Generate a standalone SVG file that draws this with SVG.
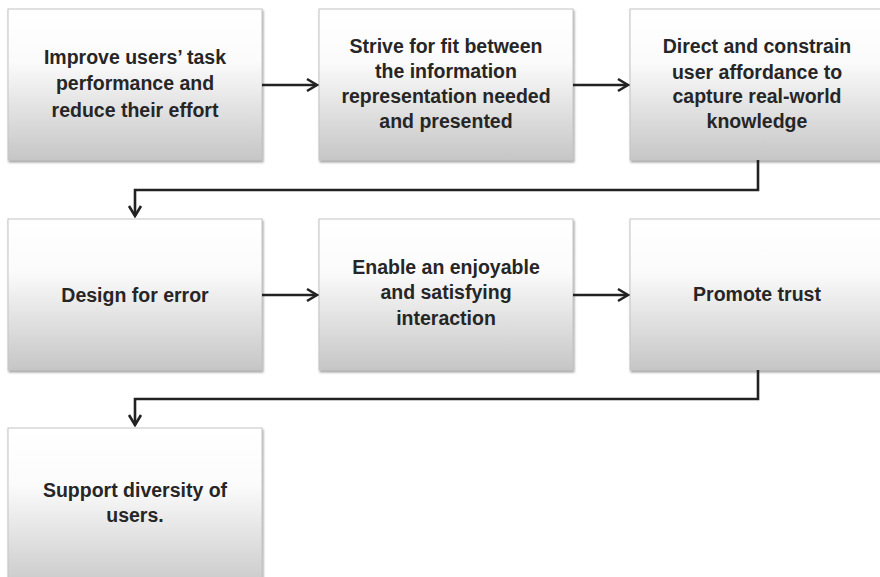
<svg xmlns="http://www.w3.org/2000/svg" width="880" height="577" viewBox="0 0 880 577">
  <defs>
    <linearGradient id="boxFill" x1="0" y1="0" x2="0" y2="1">
      <stop offset="0" stop-color="#ffffff"/>
      <stop offset="0.35" stop-color="#fbfbfb"/>
      <stop offset="1" stop-color="#c6c6c6"/>
    </linearGradient>
    <filter id="shadow" x="-5%" y="-5%" width="112%" height="115%">
      <feDropShadow dx="1" dy="2" stdDeviation="1.3" flood-color="#555" flood-opacity="0.55"/>
    </filter>
    <marker id="arrow" markerUnits="userSpaceOnUse" markerWidth="14" markerHeight="16" viewBox="0 0 14 16" refX="12" refY="8" orient="auto">
      <path d="M2,2 L12,8 L2,14" fill="none" stroke="#222" stroke-width="2.6" stroke-linejoin="miter"/>
    </marker>
  </defs>
  <style>
    .box { fill: url(#boxFill); stroke: #c4c4c4; stroke-width: 1; filter: url(#shadow); }
    .label { font-family: "Liberation Sans", Arial, sans-serif; font-weight: bold; font-size: 19.5px; fill: #262626; text-anchor: middle; }
    .conn { fill: none; stroke: #222; stroke-width: 2.6; marker-end: url(#arrow); }
  </style>

  <rect width="880" height="577" fill="#ffffff"/>

  <g id="node-task-performance">
    <rect class="box" x="8" y="9" width="254" height="151"/>
    <text class="label" x="135" y="64">Improve users’ task</text>
    <text class="label" x="135" y="90">performance and</text>
    <text class="label" x="135" y="117">reduce their effort</text>
  </g>

  <g id="node-information-fit">
    <rect class="box" x="319" y="9" width="254" height="151"/>
    <text class="label" x="446" y="53">Strive for fit between</text>
    <text class="label" x="446" y="78">the information</text>
    <text class="label" x="446" y="103">representation needed</text>
    <text class="label" x="446" y="128">and presented</text>
  </g>

  <g id="node-affordance">
    <rect class="box" x="630" y="9" width="256" height="151"/>
    <text class="label" x="757" y="53">Direct and constrain</text>
    <text class="label" x="757" y="79">user affordance to</text>
    <text class="label" x="757" y="103">capture real-world</text>
    <text class="label" x="757" y="128">knowledge</text>
  </g>

  <g id="node-design-error">
    <rect class="box" x="8" y="219" width="254" height="151"/>
    <text class="label" x="135" y="302">Design for error</text>
  </g>

  <g id="node-enjoyable">
    <rect class="box" x="319" y="219" width="254" height="151"/>
    <text class="label" x="446" y="274">Enable an enjoyable</text>
    <text class="label" x="446" y="299">and satisfying</text>
    <text class="label" x="446" y="325">interaction</text>
  </g>

  <g id="node-trust">
    <rect class="box" x="630" y="219" width="256" height="151"/>
    <text class="label" x="757" y="301">Promote trust</text>
  </g>

  <g id="node-diversity">
    <rect class="box" x="8" y="428" width="254" height="165"/>
    <text class="label" x="135" y="497">Support diversity of</text>
    <text class="label" x="135" y="522">users.</text>
  </g>

  <g id="connectors">
    <path class="conn" d="M262,85 H317"/>
    <path class="conn" d="M573,85 H628"/>
    <path class="conn" d="M758,160 V190 H135 V216"/>
    <path class="conn" d="M262,295 H317"/>
    <path class="conn" d="M573,295 H628"/>
    <path class="conn" d="M758,370 V399 H135 V425"/>
  </g>
</svg>
